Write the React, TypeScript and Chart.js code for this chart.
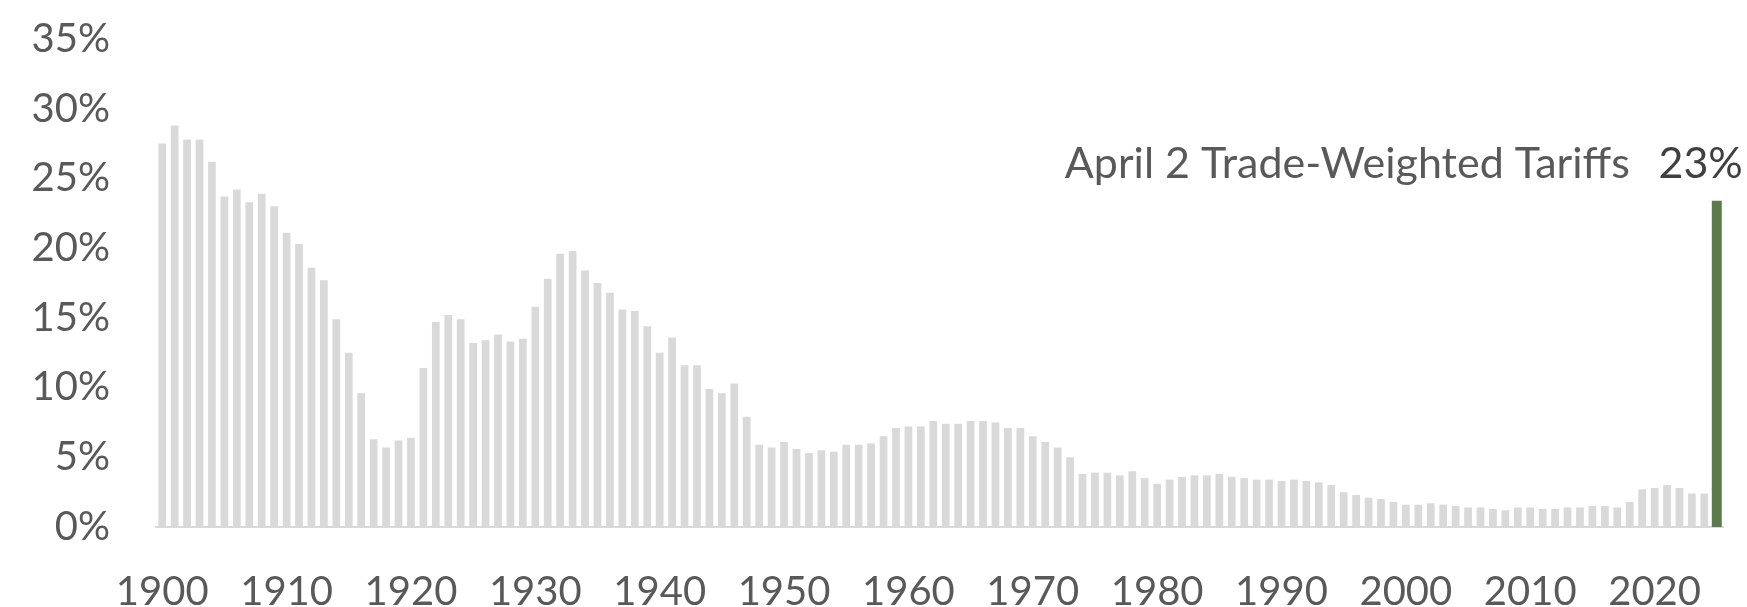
import React, { useEffect, useRef } from "react";
import { Chart, registerables } from "chart.js";

Chart.register(...registerables);

const years: number[] = [];
for (let y = 1900; y <= 2025; y++) years.push(y);

const historicalTariffs: (number | null)[] = [
  27.5, 28.8, 27.8, 27.8, 26.2, 23.7, 24.2, 23.3, 23.9, 23.0,
  21.1, 20.3, 18.6, 17.7, 14.9, 12.5, 9.6, 6.3, 5.7, 6.2,
  6.4, 11.4, 14.7, 15.2, 14.9, 13.2, 13.4, 13.8, 13.3, 13.5,
  15.8, 17.8, 19.6, 19.8, 18.4, 17.5, 16.8, 15.6, 15.5, 14.4,
  12.5, 13.6, 11.6, 11.6, 9.9, 9.6, 10.3, 7.9, 5.9, 5.7,
  6.1, 5.6, 5.3, 5.5, 5.4, 5.9, 5.9, 6.0, 6.5, 7.1,
  7.2, 7.2, 7.6, 7.4, 7.4, 7.6, 7.6, 7.5, 7.1, 7.1,
  6.5, 6.1, 5.7, 5.0, 3.8, 3.9, 3.9, 3.7, 4.0, 3.5,
  3.1, 3.4, 3.6, 3.7, 3.7, 3.8, 3.6, 3.5, 3.4, 3.4,
  3.3, 3.4, 3.3, 3.2, 3.0, 2.5, 2.3, 2.1, 2.0, 1.8,
  1.6, 1.6, 1.7, 1.6, 1.5, 1.4, 1.4, 1.3, 1.2, 1.4,
  1.4, 1.3, 1.3, 1.4, 1.4, 1.5, 1.5, 1.4, 1.8, 2.7,
  2.8, 3.0, 2.8, 2.4, 2.4,
  null,
];

const april2Value = 23.4;
const april2Series: (number | null)[] = years.map((y) => (y === 2025 ? april2Value : null));

const xTickYears = [1900, 1910, 1920, 1930, 1940, 1950, 1960, 1970, 1980, 1990, 2000, 2010, 2020];
const yTickValues = [0, 5, 10, 15, 20, 25, 30, 35];

const annotationText = "April 2 Trade-Weighted Tariffs";
const annotationValue = "23%";

const FONT = "Lato, 'Open Sans', sans-serif";
const TEXT_COLOR = "#595959";
const VALUE_COLOR = "#404040";

export default function App() {
  const canvasRef = useRef<HTMLCanvasElement | null>(null);

  useEffect(() => {
    const canvas = canvasRef.current;
    if (!canvas) return;

    const annotationPlugin = {
      id: "april2Annotation",
      afterDatasetsDraw(chart: any) {
        const meta = chart.getDatasetMeta(1);
        const idx = years.indexOf(2025);
        const el = meta.data[idx];
        if (!el) return;
        const ctx = chart.ctx;
        ctx.save();
        ctx.textBaseline = "alphabetic";
        ctx.font = `400 43px ${FONT}`;
        ctx.textAlign = "right";
        ctx.fillStyle = TEXT_COLOR;
        ctx.fillText(annotationText, el.x - 87, el.y - 23);
        ctx.fillStyle = VALUE_COLOR;
        ctx.fillText(annotationValue, el.x + 26, el.y - 23);
        ctx.restore();
      },
    };

    const chart = new Chart(canvas, {
      type: "bar",
      data: {
        labels: years.map(String),
        datasets: [
          {
            label: "Average tariff",
            data: historicalTariffs,
            backgroundColor: "#d9d9d9",
            borderWidth: 0,
            barPercentage: 0.62,
            categoryPercentage: 1,
            grouped: false,
          },
          {
            label: "April 2 Trade-Weighted Tariffs",
            data: april2Series,
            backgroundColor: "#5b7b4b",
            borderWidth: 0,
            barPercentage: 0.8,
            categoryPercentage: 1,
            grouped: false,
          },
        ],
      },
      options: {
        responsive: false,
        animation: false,
        layout: { padding: { top: 39, right: 24, left: 0, bottom: 0 } },
        plugins: {
          legend: { display: false },
          tooltip: { enabled: false },
        },
        scales: {
          x: {
            type: "category",
            grid: { display: false, drawTicks: false },
            border: { display: true, color: "#d9d9d9", width: 2 },
            ticks: {
              autoSkip: false,
              maxRotation: 0,
              minRotation: 0,
              padding: 41,
              color: TEXT_COLOR,
              font: { family: FONT, size: 40, weight: 400 as any },
              callback: (_v: any, i: number) =>
                xTickYears.includes(years[i]) ? String(years[i]) : "",
            },
            afterFit: (scale: any) => {
              scale.height = 80;
              scale.paddingLeft = 0;
              scale.paddingRight = 0;
            },
          },
          y: {
            min: 0,
            max: 35,
            grid: { display: false, drawTicks: false },
            border: { display: false },
            afterBuildTicks: (scale: any) => {
              scale.ticks = yTickValues.map((v) => ({ value: v }));
            },
            ticks: {
              padding: 46,
              color: TEXT_COLOR,
              font: { family: FONT, size: 40, weight: 400 as any },
              callback: (v: any) => `${v}%`,
            },
            afterFit: (scale: any) => {
              scale.width = 156;
              scale.paddingTop = 0;
              scale.paddingBottom = 0;
            },
          },
        },
      },
      plugins: [annotationPlugin],
    });

    return () => chart.destroy();
  }, []);

  return (
    <div style={{ position: "absolute", left: 0, top: 0, width: 1747, height: 607, background: "#fff" }}>
      <canvas ref={canvasRef} width={1747} height={607} />
    </div>
  );
}
